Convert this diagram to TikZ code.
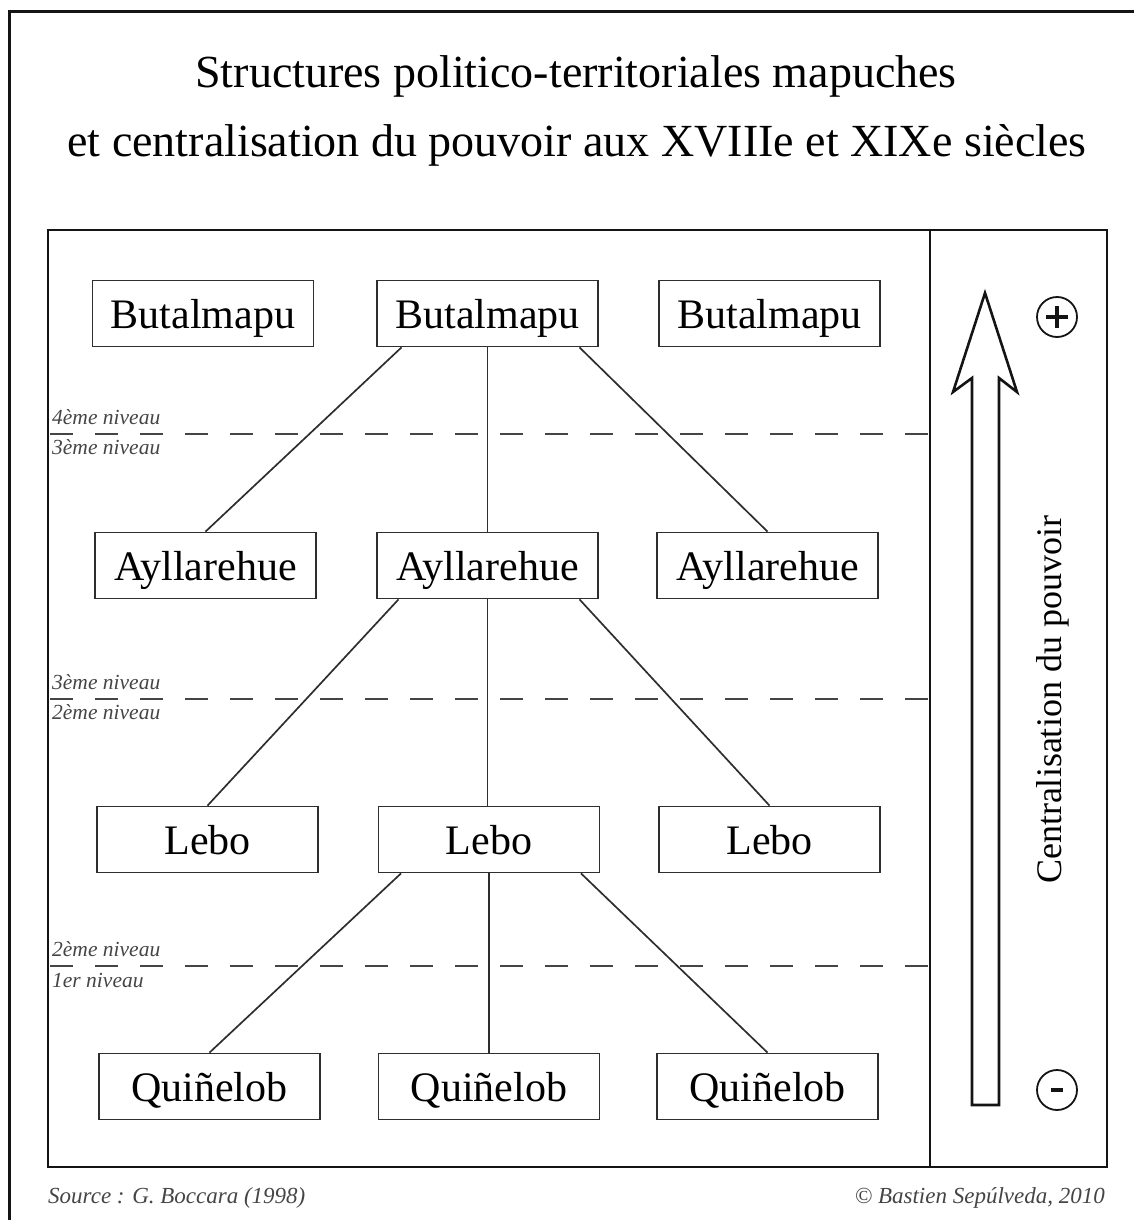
\documentclass[tikz,border=0pt]{standalone}
\usepackage{fontspec}
\setmainfont{Liberation Serif}
\definecolor{framegray}{HTML}{141414}
\definecolor{boxgray}{HTML}{2E2E2E}
\definecolor{notegray}{HTML}{454545}

\begin{document}
\begin{tikzpicture}[x=1pt,y=-1pt,
    unit/.style={draw=boxgray,line width=1.8pt,minimum width=221pt,minimum height=66pt,inner sep=0pt,text height=30pt,text depth=0pt,font=\fontsize{42}{50}\selectfont},
    link/.style={draw=boxgray,line width=1.7pt},
    limit/.style={draw=notegray,line width=2pt,dash pattern=on 23pt off 22pt},
    lvl/.style={anchor=base west,inner sep=0pt,text=notegray,font=\fontsize{21.5}{24}\selectfont\itshape},
    sign/.style={circle,draw=framegray,line width=1.8pt,minimum size=40pt,inner sep=0pt},
    bar/.style={framegray,line width=4pt},
    credit/.style={inner sep=0pt,text=notegray,font=\fontsize{23}{26}\selectfont\itshape}]
  \useasboundingbox (0,0) rectangle (1133,1220);
  \draw[framegray,line width=3pt] (9,1230) -- (9,12) -- (1140,12);

  \node[anchor=base,font=\fontsize{46}{55}\selectfont] (title1) at (576,88) {Structures politico-territoriales mapuches};
  \node[anchor=base,font=\fontsize{46}{55}\selectfont] (title2) at (577,157) {et centralisation du pouvoir aux XVIIIe et XIXe siècles};

  \draw[framegray,line width=2.8pt] (48,230) rectangle (1107,1167);
  \draw[framegray,line width=2.8pt] (930,230) -- (930,1167);

  \node[unit] (b1) at (203,313.5) {Butalmapu};
  \node[unit] (b2) at (487.5,313.5) {Butalmapu};
  \node[unit] (b3) at (769.5,313.5) {Butalmapu};

  \node[unit] (a1) at (205.5,565.5) {Ayllarehue};
  \node[unit] (a2) at (487.5,565.5) {Ayllarehue};
  \node[unit] (a3) at (767.5,565.5) {Ayllarehue};

  \node[unit] (l1) at (207.5,839.5) {Lebo};
  \node[unit] (l2) at (489,839.5) {Lebo};
  \node[unit] (l3) at (769.5,839.5) {Lebo};

  \node[unit] (q1) at (209.5,1086.5) {Quiñelob};
  \node[unit] (q2) at (489,1086.5) {Quiñelob};
  \node[unit] (q3) at (767.5,1086.5) {Quiñelob};

  \draw[link] ([xshift=-86pt]b2.south) -- (a1.north);
  \draw[link] (b2.south) -- (a2.north);
  \draw[link] ([xshift=92pt]b2.south) -- (a3.north);

  \draw[link] ([xshift=-89pt]a2.south) -- (l1.north);
  \draw[link] (a2.south) -- (a2.south |- l2.north);
  \draw[link] ([xshift=92pt]a2.south) -- (l3.north);

  \draw[link] ([xshift=-88pt]l2.south) -- (q1.north);
  \draw[link] (l2.south) -- (q2.north);
  \draw[link] ([xshift=92pt]l2.south) -- (q3.north);

  \draw[limit] (50,434) -- (930,434);
  \node[lvl] (n4a) at (52,424) {4ème niveau};
  \node[lvl] (n3a) at (52,454) {3ème niveau};

  \draw[limit] (50,699) -- (930,699);
  \node[lvl] (n3b) at (52,689) {3ème niveau};
  \node[lvl] (n2b) at (52,719) {2ème niveau};

  \draw[limit] (50,966) -- (930,966);
  \node[lvl] (n2c) at (52,956) {2ème niveau};
  \node[lvl] (n1c) at (52,987) {1er niveau};

  \draw[framegray,line width=2.6pt,line join=miter] (972,1105) -- (972,378) -- (953,392) -- (985,293) -- (1017,392) -- (999,378) -- (999,1105) -- cycle;
  \node[sign] (plus) at (1057,317) {};
  \draw[bar] ([xshift=-11pt]plus.center) -- ([xshift=11pt]plus.center);
  \draw[bar] ([yshift=-11pt]plus.center) -- ([yshift=11pt]plus.center);
  \node[sign] (minus) at (1057,1090) {};
  \draw[bar] ([xshift=-6pt]minus.center) -- ([xshift=6pt]minus.center);
  \node[rotate=90,anchor=base,font=\fontsize{36}{40}\selectfont] (axis) at (1061,700) {Centralisation du pouvoir};

  \node[credit,anchor=base west] (source) at (48,1203) {Source : G. Boccara (1998)};
  \node[credit,anchor=base east] (author) at (1105,1203) {© Bastien Sepúlveda, 2010};
\end{tikzpicture}
\end{document}
